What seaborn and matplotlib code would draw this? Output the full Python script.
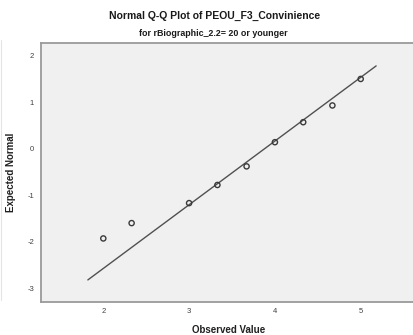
import matplotlib
matplotlib.use("Agg")
import matplotlib.pyplot as plt
import seaborn as sns
import numpy as np
import pandas as pd
from matplotlib.lines import Line2D

# Observed values and their expected normal scores
observed = [2.00, 2.33, 3.00, 3.33, 3.67, 4.00, 4.33, 4.67, 5.00]
expected = [-1.93, -1.60, -1.17, -0.78, -0.38, 0.14, 0.57, 0.93, 1.50]

# Reference line: expected = (x - mean) / sd
line_mean = 3.88
line_sd = 0.73
line_x = [1.82, 5.18]

x_ticks = [2, 3, 4, 5]
y_ticks = [-3, -2, -1, 0, 1, 2]

title = "Normal Q-Q Plot of PEOU_F3_Convinience"
subtitle = "for rBiographic_2.2= 20 or younger"

sns.set_style("white")
plt.rcParams["font.family"] = ["Liberation Sans", "DejaVu Sans"]

W, H = 414, 335
fig = plt.figure(figsize=(W / 100, H / 100), dpi=100)
fig.patch.set_facecolor("white")

left, right, top, bottom = 41, 416, 42.7, 301.5
ax = fig.add_axes([left / W, 1 - bottom / H, (right - left) / W, (bottom - top) / H])
ax.set_facecolor("#f0f0f0")

pts = pd.DataFrame({"Observed": observed, "Expected": expected})
line = pd.DataFrame({"x": line_x})
line["y"] = (line["x"] - line_mean) / line_sd

sns.lineplot(data=line, x="x", y="y", ax=ax, color="#505050", linewidth=1.0)
sns.scatterplot(data=pts, x="Observed", y="Expected", ax=ax, marker="o", s=14,
                facecolor="none", edgecolor="#3a3a3a", linewidth=1.0, zorder=3)

# axis scaling: x=2 at px 103.3, 85.8 px per unit; y=0 at px 148.7, 46.5 px per unit
ax.set_xlim(2 - (103.3 - left) / 85.8, 2 + (right - 103.3) / 85.8)
ax.set_ylim((148.7 - bottom) / 46.5, (148.7 - top) / 46.5)

ax.set_xticks(x_ticks)
ax.set_yticks(y_ticks)
ax.set_xticklabels([str(t) for t in x_ticks])
ax.set_yticklabels([str(t) for t in y_ticks])
ax.tick_params(axis="both", direction="out", length=3.5, width=0.8, color="#808080",
               labelsize=5.5, labelcolor="#404040", pad=1.5)

for side in ["left", "top", "bottom"]:
    ax.spines[side].set_visible(True)
    ax.spines[side].set_color("#9a9a9a")
    ax.spines[side].set_linewidth(1.3)
ax.spines["right"].set_visible(False)

ax.set_xlabel("Observed Value", fontsize=7, fontweight="bold", color="#202020", labelpad=7)
ax.set_ylabel("Expected Normal", fontsize=7, fontweight="bold", color="#202020", labelpad=8)

fig.text(215 / W, 1 - 15.5 / H, title, ha="center", va="center", fontsize=7.5,
         fontweight="bold", color="#1a1a1a")
fig.text(213.5 / W, 1 - 33 / H, subtitle, ha="center", va="center", fontsize=6.4,
         fontweight="bold", color="#1a1a1a")

# faint frame edge at the left of the canvas
fig.add_artist(Line2D([1.5 / W, 1.5 / W], [1 - 300 / H, 1 - 40 / H], color="#e4e4e4", linewidth=0.8))

fig.savefig("out.png", dpi=100)
